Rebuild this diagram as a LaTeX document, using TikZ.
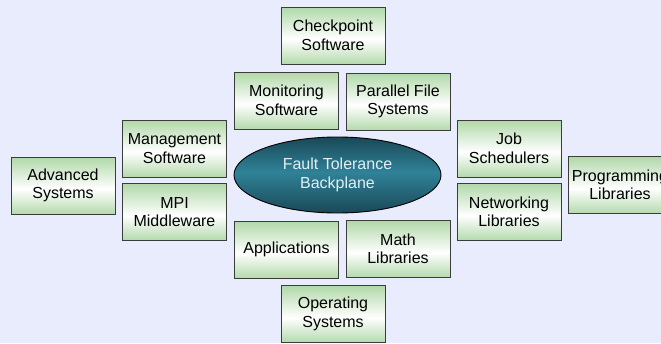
\documentclass[tikz,border=0pt]{standalone}
\usepackage{fontspec}
\setmainfont{Liberation Sans}
\usetikzlibrary{shapes.geometric}
\definecolor{bg}{RGB}{232,236,252}
\definecolor{gtop}{RGB}{176,216,168}
\definecolor{gbot}{RGB}{180,218,172}
\definecolor{ecol}{RGB}{48,130,152}
\definecolor{edark}{RGB}{26,72,86}
\definecolor{etext}{RGB}{225,240,245}
\definecolor{bord}{RGB}{60,60,60}
\pgfdeclareverticalshading{boxshade}{100bp}{color(0bp)=(gbot); color(25bp)=(gbot); color(47bp)=(white); color(75bp)=(gtop); color(100bp)=(gtop)}
\pgfdeclareverticalshading{ellshade}{100bp}{color(0bp)=(edark); color(25bp)=(edark); color(52bp)=(ecol); color(75bp)=(edark); color(100bp)=(edark)}
\tikzset{
  box/.style={draw=bord, line width=0.9pt, shading=boxshade, minimum width=104pt, minimum height=57pt,
    inner sep=0pt, align=center, font=\fontsize{16}{18.5}\selectfont, text=black},
  hub/.style={ellipse, draw=black, line width=0.9pt, shading=ellshade, minimum width=207pt, minimum height=76pt,
    inner sep=0pt, align=center, font=\fontsize{16}{18.5}\selectfont, text=etext}
}
\begin{document}
\begin{tikzpicture}[x=1pt,y=-1pt]
\useasboundingbox (0,0) rectangle (661,343);
\clip (0,0) rectangle (661,343);
\fill[bg] (0,0) rectangle (661,343);
\node[hub] (ft) at (337.5,175) {Fault Tolerance\\Backplane};
\node[box] (ck) at (333,35.5) {Checkpoint\\Software};
\node[box] (mon) at (286.5,100.5) {Monitoring\\Software};
\node[box] (pfs) at (398,101.5) {Parallel File\\Systems};
\node[box] (mgt) at (174.5,148.5) {Management\\Software};
\node[box] (adv) at (63,185.5) {Advanced\\Systems};
\node[box] (mpi) at (174.5,212) {MPI\\Middleware};
\node[box] (app) at (286.5,249.5) {Applications};
\node[box] (math) at (398,249) {Math\\Libraries};
\node[box] (os) at (333,314) {Operating\\Systems};
\node[box] (job) at (509,148.5) {Job\\Schedulers};
\node[box] (net) at (509,212) {Networking\\Libraries};
\node[box] (prog) at (620,185) {Programming\\Libraries};
\end{tikzpicture}
\end{document}
